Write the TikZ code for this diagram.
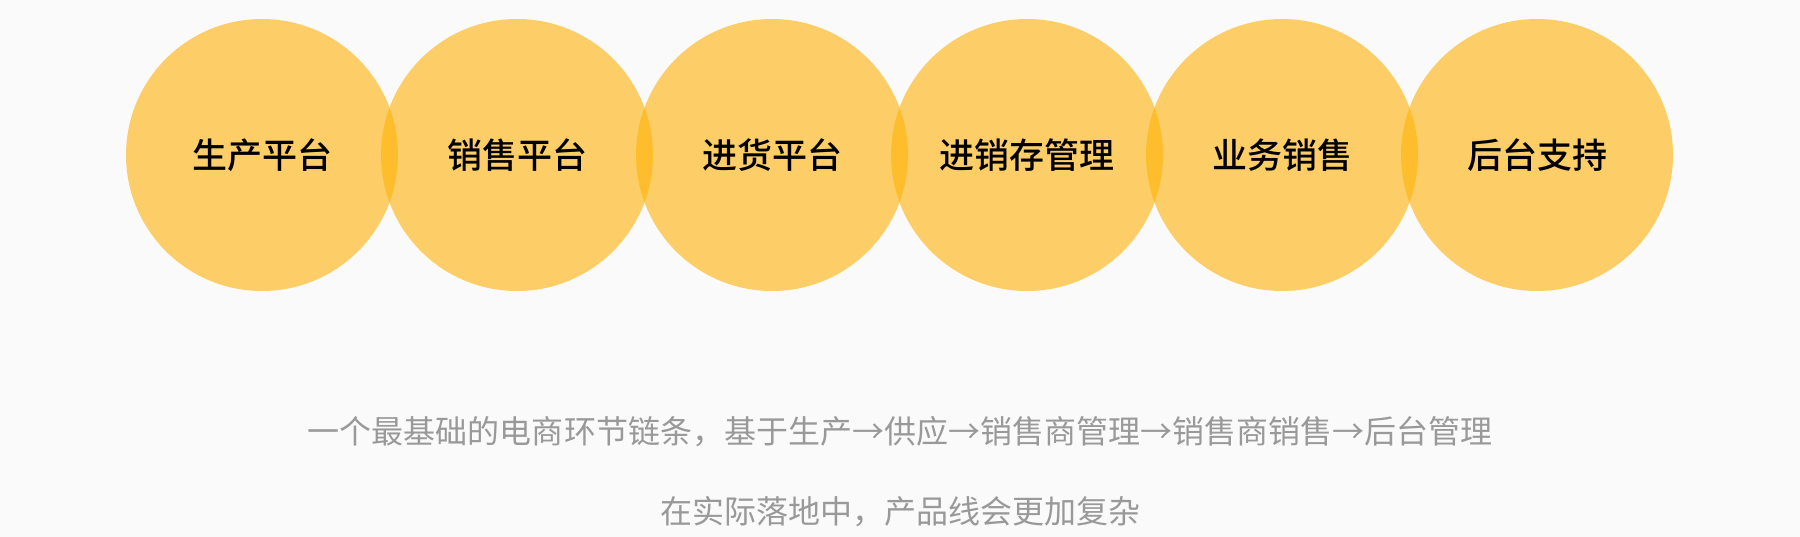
\documentclass[tikz,border=0pt]{standalone}
\usepackage{fontspec}
\newfontfamily\cjk{Noto Sans CJK SC}
\newfontfamily\cjkmed{Noto Sans CJK SC Medium}
\usepackage{tikz}
\usetikzlibrary{positioning}
\definecolor{petal}{RGB}{255,178,7}
\definecolor{caption}{RGB}{153,153,153}
\definecolor{paper}{RGB}{250,250,250}

\begin{document}
\begin{tikzpicture}[x=1bp,y=-1bp,node distance=255bp,on grid]
  \tikzstyle{stage}=[circle,fill=petal,fill opacity=0.6,text opacity=1,
                     minimum size=272bp,inner sep=0pt,
                     font=\cjkmed\fontsize{35bp}{40bp}\selectfont]
  \tikzstyle{note}=[text=caption,inner sep=0pt,
                    font=\cjk\fontsize{32bp}{38bp}\selectfont]

  \fill[paper] (0,0) rectangle (1800,537);
  \useasboundingbox (0,0) rectangle (1800,537);

  \node[stage] (s1) at (262,155) {生产平台};
  \node[stage] (s2) [right=of s1] {销售平台};
  \node[stage] (s3) [right=of s2] {进货平台};
  \node[stage] (s4) [right=of s3] {进销存管理};
  \node[stage] (s5) [right=of s4] {业务销售};
  \node[stage] (s6) [right=of s5] {后台支持};

  \node[note] (n1) at (900,432) {一个最基础的电商环节链条，基于生产→供应→销售商管理→销售商销售→后台管理};
  \node[note] (n2) at (900,512) {在实际落地中，产品线会更加复杂};
\end{tikzpicture}
\end{document}
